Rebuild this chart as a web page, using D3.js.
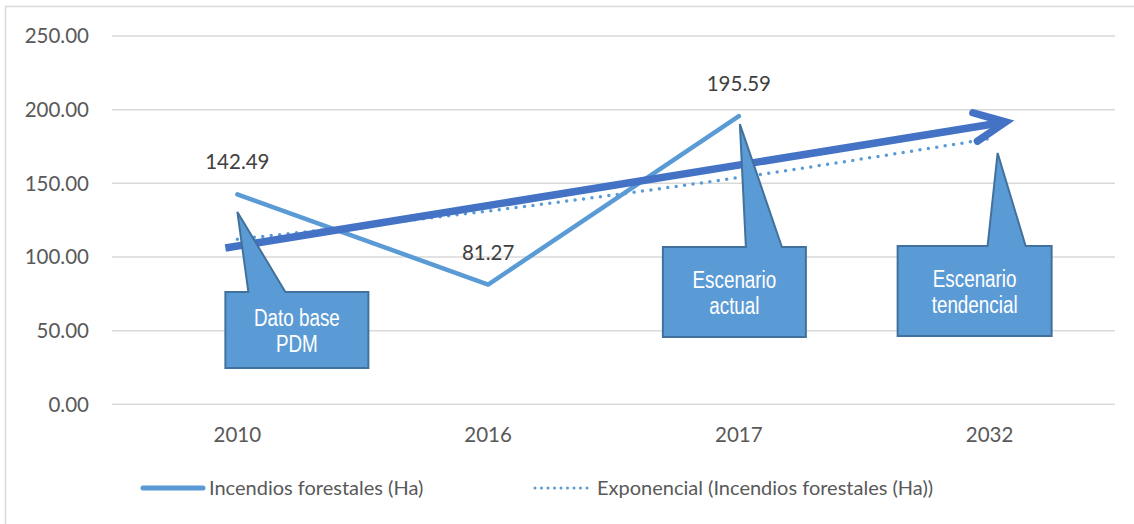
<!DOCTYPE html>
<html><head><meta charset="utf-8">
<script src="https://cdn.jsdelivr.net/npm/d3@7"></script>
<style>
html,body{margin:0;padding:0;background:#fff;}
svg{display:block;}
.lbl{font-family:Lato,'Open Sans',sans-serif;}
.narrow{font-family:'Liberation Sans',Arial,sans-serif;}
</style></head>
<body>
<svg id="chart" width="1134" height="524"></svg>
<script>
// ---- data ----
const categories = ["2010", "2016", "2017", "2032"];
const incendios = [142.49, 81.27, 195.59, null];
const trendValues = [112.1, 131.2, 153.9, 180.3]; // exponential trendline
const yTicks = [0, 50, 100, 150, 200, 250];
const seriesName = "Incendios forestales (Ha)";
const trendName = "Exponencial (Incendios forestales (Ha))";
const calloutTexts = [["Dato base", "PDM"], ["Escenario", "actual"], ["Escenario", "tendencial"]];
const calloutCats = ["2010", "2017", "2032"];

// ---- layout ----
const W = 1134, H = 524;
const svg = d3.select("#chart");
const x = d3.scaleBand().domain(categories).range([112, 1115]);
const xc = c => x(c) + x.bandwidth() / 2;
const y = d3.scaleLinear().domain([0, 250]).range([404.3, 36]);

// outer frame
svg.append("rect").attr("x", 5.5).attr("y", 6.5).attr("width", W + 10).attr("height", H + 10)
  .attr("fill", "none").attr("stroke", "#D9D9D9").attr("stroke-width", 1.5);

// gridlines
svg.append("g").selectAll("line").data(yTicks).join("line")
  .attr("x1", 112).attr("x2", 1115)
  .attr("y1", d => y(d)).attr("y2", d => y(d))
  .attr("stroke", "#D9D9D9").attr("stroke-width", 1.5);

// y labels
svg.append("g").selectAll("text").data(yTicks).join("text")
  .attr("class", "lbl").attr("x", 89).attr("y", d => y(d)).attr("dy", "0.36em")
  .attr("text-anchor", "end").attr("font-size", 20.5).attr("fill", "#595959")
  .text(d => d3.format(".2f")(d));

// x labels
svg.append("g").selectAll("text").data(categories).join("text")
  .attr("class", "lbl").attr("x", d => xc(d)).attr("y", 442)
  .attr("text-anchor", "middle").attr("font-size", 20.5).attr("fill", "#595959")
  .text(d => d);

// trendline (dotted)
const trendLine = d3.line().x((d, i) => xc(categories[i])).y(d => y(d)).curve(d3.curveMonotoneX);
svg.append("path").attr("d", trendLine(trendValues))
  .attr("fill", "none").attr("stroke", "#5B9BD5").attr("stroke-width", 3.5)
  .attr("stroke-dasharray", "0 8.5").attr("stroke-linecap", "round");

// main series
const pts = incendios.map((v, i) => ({c: categories[i], v})).filter(d => d.v != null);
const line = d3.line().x(d => xc(d.c)).y(d => y(d.v));
svg.append("path").attr("d", line(pts))
  .attr("fill", "none").attr("stroke", "#5B9BD5").attr("stroke-width", 4.5)
  .attr("stroke-linecap", "round").attr("stroke-linejoin", "round");

// data labels
svg.append("g").selectAll("text").data(pts).join("text")
  .attr("class", "lbl").attr("x", d => xc(d.c))
  .attr("y", d => y(d.v) - 25)
  .attr("text-anchor", "middle").attr("font-size", 20.5).attr("fill", "#404040")
  .text(d => d3.format(".2f")(d.v));

// ---- big arrow annotation ----
const aStart = [xc("2010") - 12, y(106.1)];
const aEnd = [xc("2032") + 16, y(191.6)];
const ang = Math.atan2(aEnd[1] - aStart[1], aEnd[0] - aStart[0]);
const armLen = 34, spread = 25 * Math.PI / 180;
const arm = s => [aEnd[0] - armLen * Math.cos(ang + s), aEnd[1] - armLen * Math.sin(ang + s)];
svg.append("line").attr("x1", aStart[0]).attr("y1", aStart[1]).attr("x2", aEnd[0]).attr("y2", aEnd[1])
  .attr("stroke", "#4472C4").attr("stroke-width", 7.5);
svg.append("path").attr("d", d3.line()([arm(spread), aEnd, arm(-spread)]))
  .attr("fill", "none").attr("stroke", "#4472C4").attr("stroke-width", 7.5)
  .attr("stroke-linejoin", "miter").attr("stroke-linecap", "round");

// ---- callouts ----
const callouts = [
  {l: -12, r: 131, top: 76.2, bot: 24.6, b0: 11, b1: 48, tipDx: 0, tipV: 130.6},
  {l: -76, r: 67, top: 106.8, bot: 45.7, b0: 7, b1: 43, tipDx: 1, tipV: 190.2},
  {l: -92, r: 62, top: 107.5, bot: 46.4, b0: -2, b1: 36, tipDx: 8, tipV: 170.6}
];
callouts.forEach((c, i) => {
  const cx = xc(calloutCats[i]);
  const x0 = cx + c.l, x1 = cx + c.r, y0 = y(c.top), y1 = y(c.bot);
  const p = d3.path();
  p.moveTo(x0, y0); p.lineTo(cx + c.b0, y0); p.lineTo(cx + c.tipDx, y(c.tipV));
  p.lineTo(cx + c.b1, y0); p.lineTo(x1, y0); p.lineTo(x1, y1); p.lineTo(x0, y1); p.closePath();
  svg.append("path").attr("d", p.toString()).attr("fill", "#5B9BD5")
    .attr("stroke", "#41719C").attr("stroke-width", 2);
  const mx = (x0 + x1) / 2, my = (y0 + y1) / 2;
  const g = svg.append("g").attr("transform", `translate(${mx},${my}) scale(0.82,1)`);
  const t = g.append("text").attr("class", "narrow").attr("text-anchor", "middle")
    .attr("font-size", 23).attr("fill", "#ffffff");
  calloutTexts[i].forEach((s, j) => {
    t.append("tspan").attr("x", 0).attr("y", -4 + j * 26).text(s);
  });
});

// ---- legend ----
const lg = svg.append("g");
lg.append("line").attr("x1", 143).attr("x2", 203).attr("y1", 488).attr("y2", 488)
  .attr("stroke", "#5B9BD5").attr("stroke-width", 5).attr("stroke-linecap", "round");
lg.append("text").attr("class", "lbl").attr("x", 209).attr("y", 495)
  .attr("font-size", 20).attr("fill", "#595959").text(seriesName);
lg.append("line").attr("x1", 535).attr("x2", 588).attr("y1", 488).attr("y2", 488)
  .attr("stroke", "#5B9BD5").attr("stroke-width", 3).attr("stroke-dasharray", "0 6.5")
  .attr("stroke-linecap", "round");
lg.append("text").attr("class", "lbl").attr("x", 597).attr("y", 495)
  .attr("font-size", 20).attr("fill", "#595959").text(trendName);
</script>
</body></html>
